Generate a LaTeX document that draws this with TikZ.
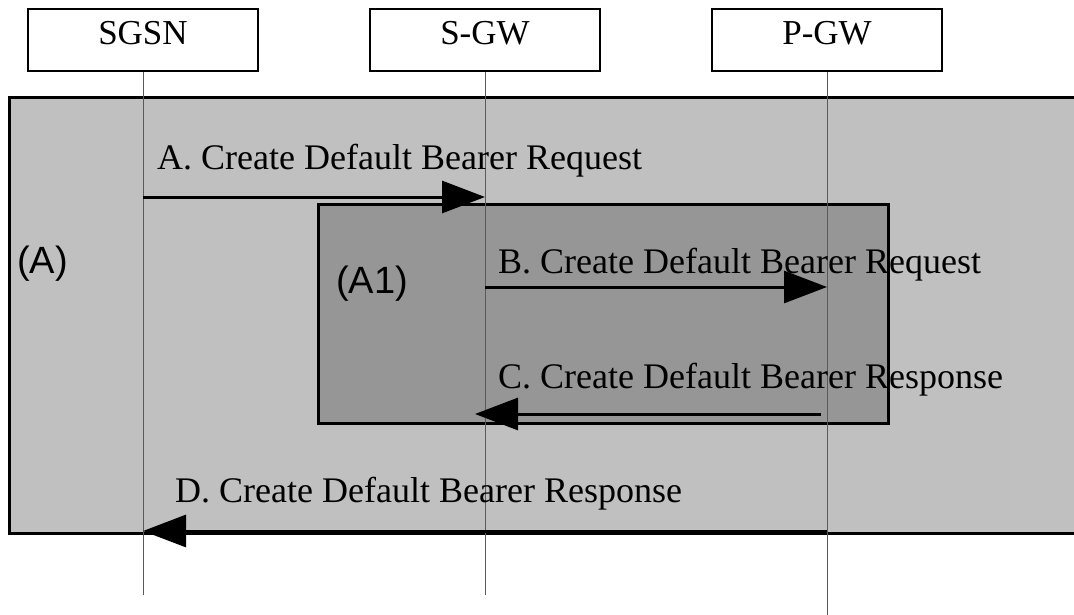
\documentclass[tikz,border=0pt]{standalone}
\usepackage{fontspec}
\setmainfont{Liberation Serif}
\newfontfamily\regionfont{Liberation Sans}
\usepackage{tikz}
\usetikzlibrary{arrows.meta, positioning}
\definecolor{outergrey}{HTML}{C0C0C0}
\definecolor{innergrey}{HTML}{969696}
\definecolor{lifegrey}{HTML}{5A5A5A}

\begin{document}
\begin{tikzpicture}[x=1pt, y=-1pt, node distance=109.5pt,
  entity/.style={draw, line width=2.5pt, fill=white, minimum width=230pt,
    inner xsep=0pt, inner ysep=6pt, text height=29pt, text depth=21pt,
    font=\fontsize{35}{40}\selectfont},
  region/.style={draw, line width=2.7pt, anchor=north west, inner sep=0pt},
  tag/.style={anchor=base west, inner sep=0pt,
    font=\regionfont\fontsize{38}{42}\selectfont},
  msg/.style={anchor=base west, inner sep=0pt, font=\fontsize{36}{40}\selectfont},
  life/.style={draw=lifegrey, line width=1pt},
  arrow/.style={-{Triangle[length=43pt, width=32pt]}, line width=3pt}]
  \clip (0,0) rectangle (1074,615);
  % regions
  \node[region, fill=outergrey, minimum width=1090pt, minimum height=436pt] (A) at (8,96) {};
  \node[region, fill=innergrey, minimum width=570pt, minimum height=219pt] (A1) at (317,203) {};
  \node[tag] (tagA) at (17,273) {(A)};
  \node[tag] (tagA1) at (336,293) {(A1)};
  % entities and lifelines
  \node[entity, anchor=north] (sgsn) at (143,8) {SGSN};
  \node[entity, right=of sgsn] (sgw) {S-GW};
  \node[entity, right=of sgw] (pgw) {P-GW};
  \coordinate (sgsnEnd) at (sgsn |- 0,595);
  \coordinate (sgwEnd) at (sgw |- 0,595);
  \coordinate (pgwEnd) at (pgw |- 0,620);
  \draw[life] (sgsn) -- (sgsnEnd);
  \draw[life] (sgw) -- (sgwEnd);
  \draw[life] (pgw) -- (pgwEnd);
  % messages
  \coordinate (a0) at (sgsn |- 0,197);
  \coordinate (a1) at (sgw |- 0,197);
  \coordinate (b0) at (sgw |- 0,287);
  \coordinate (b1) at (pgw |- 0,287);
  \coordinate (c0) at ([xshift=-6pt]pgw |- 0,414);
  \coordinate (c1) at ([xshift=-10pt]sgw |- 0,414);
  \coordinate (d0) at (pgw |- 0,531);
  \coordinate (d1) at (sgsn |- 0,531);
  \draw[arrow] (a0) -- (a1);
  \draw[arrow] (b0) -- (b1);
  \draw[arrow] (c0) -- (c1);
  \draw[arrow] (d0) -- (d1);
  \node[msg] (msgA) at (157,170) {A. Create Default Bearer Request};
  \node[msg] (msgB) at (498,273) {B. Create Default Bearer Request};
  \node[msg] (msgC) at (498,388) {C. Create Default Bearer Response};
  \node[msg] (msgD) at (175,502) {D. Create Default Bearer Response};
\end{tikzpicture}
\end{document}
